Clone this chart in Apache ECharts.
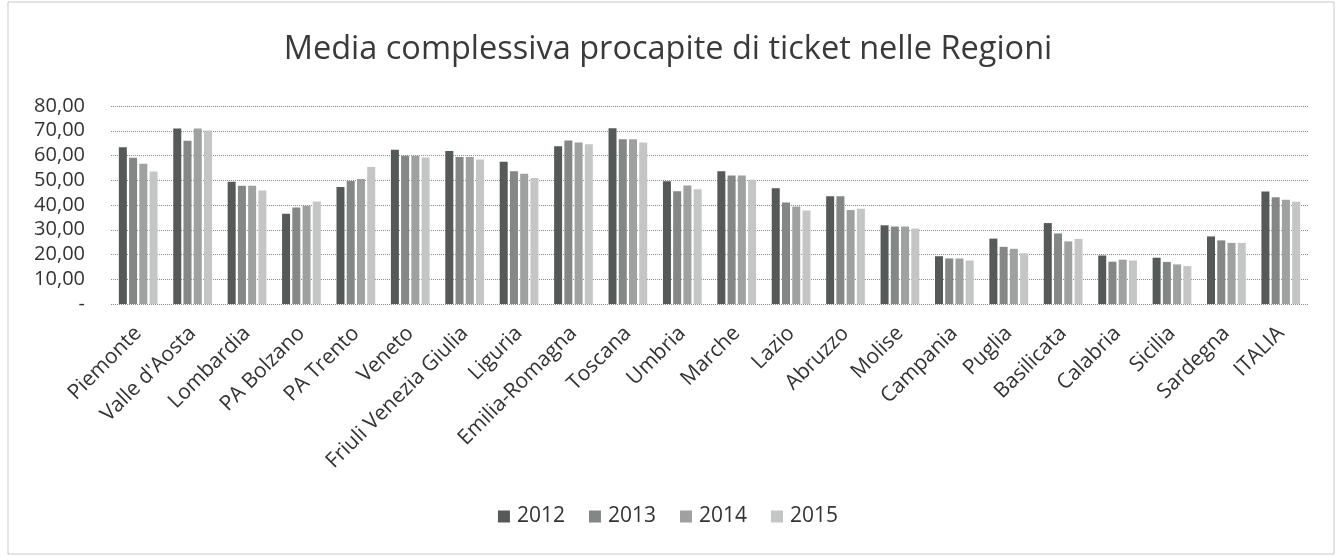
<!DOCTYPE html>
<html>
<head>
<meta charset="utf-8">
<script src="https://cdn.jsdelivr.net/npm/echarts@6/dist/echarts.min.js"></script>
<style>
  html, body { margin: 0; padding: 0; background: #fff; }
  #chart { width: 1336px; height: 556px; }
</style>
</head>
<body>
<div id="chart"></div>
<script>
// categorie (regioni)
var regioni = ['Piemonte', "Valle d'Aosta", 'Lombardia', 'PA Bolzano', 'PA Trento', 'Veneto',
  'Friuli Venezia Giulia', 'Liguria', 'Emilia-Romagna', 'Toscana', 'Umbria', 'Marche', 'Lazio',
  'Abruzzo', 'Molise', 'Campania', 'Puglia', 'Basilicata', 'Calabria', 'Sicilia', 'Sardegna', 'ITALIA'];

var anni = ['2012', '2013', '2014', '2015'];

// valori
var v2012 = [63.3, 70.9, 49.4, 36.5, 47.3, 62.3, 61.8, 57.5, 63.7, 71.0, 49.6, 53.6, 46.8, 43.5, 31.8, 19.3, 26.4, 32.7, 19.6, 18.7, 27.3, 45.5];
var v2013 = [59.1, 66.0, 47.8, 39.0, 49.7, 59.9, 59.4, 53.6, 66.1, 66.6, 45.6, 51.9, 41.0, 43.5, 31.3, 18.4, 23.1, 28.5, 17.1, 17.0, 25.7, 43.1];
var v2014 = [56.7, 70.9, 47.8, 39.7, 50.5, 59.9, 59.4, 52.6, 65.3, 66.6, 47.9, 51.9, 39.4, 38.0, 31.3, 18.4, 22.3, 25.3, 17.9, 16.0, 24.7, 42.1];
var v2015 = [53.5, 70.1, 45.9, 41.4, 55.4, 59.2, 58.4, 50.9, 64.5, 65.3, 46.4, 50.2, 37.8, 38.5, 30.5, 17.6, 20.5, 26.3, 17.6, 15.3, 24.7, 41.3];

// tacche asse y
var yTicks = [0, 10, 20, 30, 40, 50, 60, 70, 80];
var yTickLabels = ['-', '10,00', '20,00', '30,00', '40,00', '50,00', '60,00', '70,00', '80,00'];

var colori = ['#555a58', '#838785', '#9ea19f', '#c4c6c5'];
var valori = [v2012, v2013, v2014, v2015];

var chart = echarts.init(document.getElementById('chart'));

var series = anni.map(function (a, i) {
  return {
    name: a,
    type: 'bar',
    data: valori[i],
    barWidth: 8,
    barGap: '28%',
    itemStyle: { color: colori[i] },
    animation: false
  };
});

var option = {
  backgroundColor: '#fff',
  title: {
    text: 'Media complessiva procapite di ticket nelle Regioni',
    left: 'center',
    top: 28,
    textStyle: { fontFamily: 'Open Sans', fontSize: 32.5, fontWeight: 'normal', color: '#3a3a3a' }
  },
  legend: {
    data: anni,
    bottom: 24,
    left: 'center',
    itemWidth: 12,
    itemHeight: 12,
    itemGap: 24,
    icon: 'rect',
    textStyle: { fontFamily: 'Open Sans', fontSize: 21, color: '#333', padding: [0, 0, 0, 2] }
  },
  grid: { left: 111, right: 28, top: 106, height: 198, containLabel: false },
  xAxis: {
    type: 'category',
    data: regioni,
    axisTick: { show: false },
    axisLine: { show: false },
    axisLabel: {
      rotate: 45,
      interval: 0,
      margin: 26,
      fontFamily: 'Open Sans',
      fontSize: 21,
      color: '#333'
    }
  },
  yAxis: {
    type: 'value',
    min: yTicks[0],
    max: yTicks[yTicks.length - 1],
    interval: 10,
    axisLine: { show: false },
    axisTick: { show: false },
    axisLabel: {
      margin: 26,
      fontFamily: 'Open Sans',
      fontSize: 20,
      color: '#333',
      formatter: function (v) { return yTickLabels[yTicks.indexOf(v)]; }
    },
    splitLine: { lineStyle: { color: '#8a8a8a', type: 'dotted', width: 1 } }
  },
  graphic: [{
    type: 'rect',
    shape: { x: 8, y: 2, width: 1326, height: 552 },
    style: { fill: 'none', stroke: '#c8c8c8', lineWidth: 1 },
    silent: true
  }],
  series: series
};

chart.setOption(option);
</script>
</body>
</html>
